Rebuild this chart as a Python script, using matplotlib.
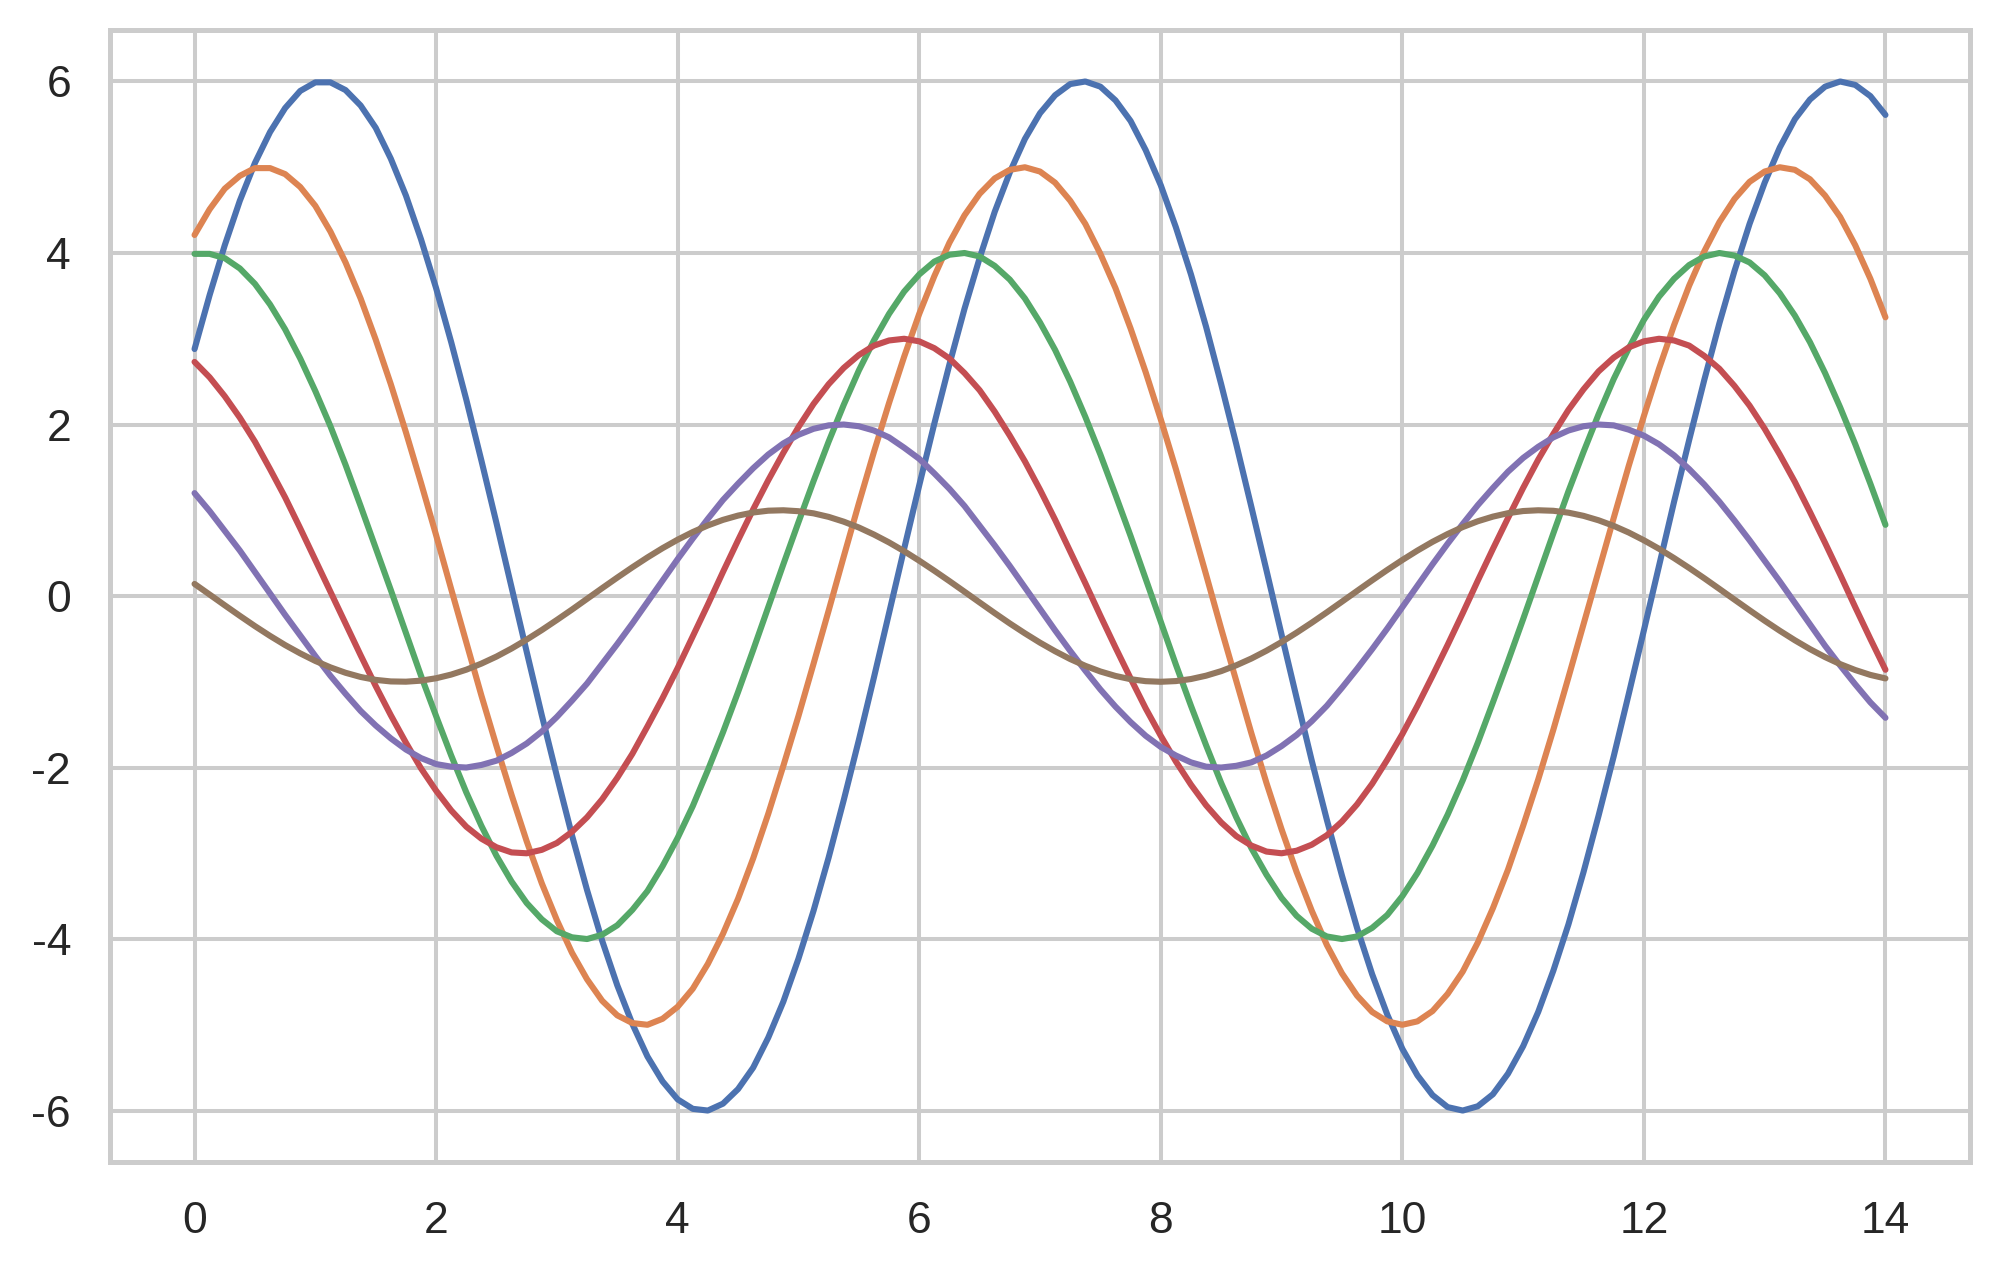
import matplotlib
matplotlib.use("Agg")
import matplotlib.pyplot as plt
import seaborn as sns

x = [0.0, 0.125, 0.25, 0.375, 0.5, 0.625, 0.75, 0.875, 1.0, 1.125,
     1.25, 1.375, 1.5, 1.625, 1.75, 1.875, 2.0, 2.125, 2.25, 2.375,
     2.5, 2.625, 2.75, 2.875, 3.0, 3.125, 3.25, 3.375, 3.5, 3.625,
     3.75, 3.875, 4.0, 4.125, 4.25, 4.375, 4.5, 4.625, 4.75, 4.875,
     5.0, 5.125, 5.25, 5.375, 5.5, 5.625, 5.75, 5.875, 6.0, 6.125,
     6.25, 6.375, 6.5, 6.625, 6.75, 6.875, 7.0, 7.125, 7.25, 7.375,
     7.5, 7.625, 7.75, 7.875, 8.0, 8.125, 8.25, 8.375, 8.5, 8.625,
     8.75, 8.875, 9.0, 9.125, 9.25, 9.375, 9.5, 9.625, 9.75, 9.875,
     10.0, 10.125, 10.25, 10.375, 10.5, 10.625, 10.75, 10.875, 11.0, 11.125,
     11.25, 11.375, 11.5, 11.625, 11.75, 11.875, 12.0, 12.125, 12.25, 12.375,
     12.5, 12.625, 12.75, 12.875, 13.0, 13.125, 13.25, 13.375, 13.5, 13.625,
     13.75, 13.875, 14.0]

series1 = [2.88, 3.51, 4.09, 4.61, 5.05, 5.41, 5.69, 5.89, 5.99, 5.99,
           5.90, 5.72, 5.46, 5.10, 4.67, 4.16, 3.59, 2.96, 2.29, 1.58,
           0.85, 0.10, -0.65, -1.39, -2.10, -2.79, -3.43, -4.02, -4.54, -4.99,
           -5.37, -5.66, -5.87, -5.98, -6.00, -5.92, -5.75, -5.50, -5.15, -4.73,
           -4.23, -3.67, -3.05, -2.38, -1.68, -0.95, -0.20, 0.55, 1.29, 2.01,
           2.70, 3.35, 3.94, 4.48, 4.94, 5.33, 5.63, 5.84, 5.97, 6.00,
           5.94, 5.78, 5.54, 5.20, 4.79, 4.30, 3.75, 3.14, 2.47, 1.77,
           1.04, 0.30, -0.45, -1.19, -1.92, -2.61, -3.26, -3.87, -4.41, -4.88,
           -5.28, -5.59, -5.82, -5.96, -6.00, -5.95, -5.81, -5.57, -5.25, -4.85,
           -4.37, -3.83, -3.22, -2.56, -1.87, -1.14, -0.40, 0.35, 1.10, 1.82,
           2.52, 3.18, 3.79, 4.34, 4.82, 5.23, 5.56, 5.79, 5.94, 6.00,
           5.96, 5.83, 5.61]
series2 = [4.21, 4.51, 4.75, 4.90, 4.99, 4.99, 4.92, 4.77, 4.55, 4.25,
           3.89, 3.47, 2.99, 2.47, 1.91, 1.32, 0.71, 0.08, -0.54, -1.16,
           -1.75, -2.32, -2.86, -3.35, -3.78, -4.16, -4.47, -4.72, -4.89, -4.98,
           -5.00, -4.93, -4.79, -4.58, -4.29, -3.94, -3.53, -3.06, -2.54, -1.98,
           -1.40, -0.79, -0.17, 0.46, 1.08, 1.68, 2.25, 2.79, 3.29, 3.73,
           4.12, 4.44, 4.69, 4.87, 4.97, 5.00, 4.95, 4.82, 4.61, 4.34,
           3.99, 3.59, 3.12, 2.61, 2.06, 1.48, 0.87, 0.25, -0.38, -0.99,
           -1.60, -2.18, -2.72, -3.22, -3.67, -4.07, -4.40, -4.66, -4.85, -4.96,
           -5.00, -4.96, -4.84, -4.64, -4.38, -4.04, -3.64, -3.19, -2.68, -2.14,
           -1.56, -0.95, -0.33, 0.29, 0.91, 1.52, 2.10, 2.65, 3.16, 3.62,
           4.02, 4.36, 4.63, 4.83, 4.95, 5.00, 4.97, 4.86, 4.67, 4.42,
           4.09, 3.70, 3.25]
series3 = [3.99, 3.99, 3.94, 3.82, 3.64, 3.40, 3.11, 2.77, 2.39, 1.98,
           1.53, 1.05, 0.56, 0.07, -0.43, -0.93, -1.40, -1.86, -2.29, -2.68,
           -3.03, -3.33, -3.58, -3.77, -3.91, -3.98, -4.00, -3.95, -3.84, -3.66,
           -3.44, -3.15, -2.82, -2.45, -2.03, -1.59, -1.12, -0.63, -0.13, 0.37,
           0.86, 1.34, 1.80, 2.23, 2.63, 2.98, 3.29, 3.55, 3.75, 3.90,
           3.98, 4.00, 3.96, 3.85, 3.69, 3.47, 3.19, 2.87, 2.50, 2.09,
           1.65, 1.18, 0.70, 0.20, -0.30, -0.80, -1.28, -1.74, -2.18, -2.58,
           -2.94, -3.25, -3.52, -3.73, -3.88, -3.97, -4.00, -3.97, -3.87, -3.72,
           -3.50, -3.23, -2.91, -2.55, -2.15, -1.71, -1.24, -0.76, -0.27, 0.23,
           0.73, 1.22, 1.68, 2.12, 2.53, 2.89, 3.22, 3.49, 3.70, 3.86,
           3.96, 4.00, 3.97, 3.89, 3.74, 3.53, 3.27, 2.96, 2.60, 2.20,
           1.77, 1.31, 0.83]
series4 = [2.73, 2.55, 2.33, 2.08, 1.80, 1.48, 1.15, 0.79, 0.42, 0.05,
           -0.32, -0.69, -1.05, -1.39, -1.71, -2.01, -2.27, -2.50, -2.69, -2.83,
           -2.93, -2.99, -3.00, -2.96, -2.88, -2.75, -2.58, -2.37, -2.12, -1.84,
           -1.52, -1.19, -0.84, -0.47, -0.10, 0.28, 0.65, 1.01, 1.35, 1.67,
           1.97, 2.24, 2.47, 2.66, 2.81, 2.92, 2.98, 3.00, 2.97, 2.89,
           2.77, 2.60, 2.40, 2.15, 1.87, 1.57, 1.24, 0.89, 0.52, 0.15,
           -0.23, -0.60, -0.96, -1.31, -1.63, -1.93, -2.20, -2.44, -2.64, -2.80,
           -2.91, -2.98, -3.00, -2.97, -2.90, -2.79, -2.63, -2.43, -2.19, -1.91,
           -1.61, -1.28, -0.93, -0.57, -0.20, 0.18, 0.55, 0.91, 1.26, 1.59,
           1.89, 2.17, 2.41, 2.62, 2.78, 2.90, 2.97, 3.00, 2.98, 2.92,
           2.80, 2.65, 2.45, 2.22, 1.95, 1.65, 1.33, 0.98, 0.62, 0.25,
           -0.13, -0.50, -0.86]
series5 = [1.20, 0.99, 0.76, 0.53, 0.28, 0.03, -0.22, -0.46, -0.70, -0.93,
           -1.14, -1.34, -1.51, -1.66, -1.79, -1.89, -1.96, -1.99, -2.00, -1.97,
           -1.92, -1.83, -1.72, -1.58, -1.41, -1.22, -1.02, -0.79, -0.56, -0.32,
           -0.07, 0.18, 0.43, 0.67, 0.90, 1.12, 1.31, 1.49, 1.65, 1.78,
           1.88, 1.95, 1.99, 2.00, 1.98, 1.93, 1.85, 1.73, 1.60, 1.43,
           1.25, 1.05, 0.82, 0.59, 0.35, 0.10, -0.15, -0.40, -0.64, -0.87,
           -1.09, -1.29, -1.47, -1.63, -1.76, -1.86, -1.94, -1.99, -2.00, -1.98,
           -1.94, -1.86, -1.75, -1.62, -1.46, -1.28, -1.07, -0.85, -0.62, -0.38,
           -0.13, 0.12, 0.37, 0.61, 0.84, 1.06, 1.26, 1.45, 1.61, 1.74,
           1.85, 1.93, 1.98, 2.00, 1.99, 1.94, 1.87, 1.77, 1.64, 1.48,
           1.30, 1.10, 0.88, 0.65, 0.41, 0.17, -0.08, -0.33, -0.58, -0.81,
           -1.03, -1.24, -1.42]
series6 = [0.141, 0.017, -0.108, -0.231, -0.351, -0.465, -0.572, -0.669, -0.757, -0.832,
           -0.895, -0.944, -0.978, -0.996, -0.999, -0.987, -0.959, -0.916, -0.859, -0.788,
           -0.706, -0.612, -0.508, -0.397, -0.279, -0.158, -0.033, 0.092, 0.215, 0.335,
           0.450, 0.558, 0.657, 0.746, 0.823, 0.888, 0.938, 0.974, 0.995, 1.000,
           0.989, 0.964, 0.923, 0.867, 0.799, 0.717, 0.625, 0.523, 0.412, 0.295,
           0.174, 0.050, -0.075, -0.199, -0.320, -0.435, -0.544, -0.644, -0.735, -0.814,
           -0.880, -0.932, -0.970, -0.993, -1.000, -0.992, -0.968, -0.929, -0.876, -0.808,
           -0.729, -0.638, -0.537, -0.427, -0.311, -0.190, -0.066, 0.059, 0.183, 0.304,
           0.420, 0.530, 0.632, 0.723, 0.804, 0.872, 0.926, 0.966, 0.991, 1.000,
           0.994, 0.972, 0.935, 0.883, 0.818, 0.740, 0.650, 0.551, 0.442, 0.327,
           0.207, 0.083, -0.042, -0.166, -0.288, -0.405, -0.516, -0.619, -0.712, -0.794,
           -0.863, -0.920, -0.961]

all_series = [series1, series2, series3, series4, series5, series6]
colors = ["#4C72B0", "#DD8452", "#55A868", "#C44E52", "#8172B3", "#937860"]
xticks = [0, 2, 4, 6, 8, 10, 12, 14]
yticks = [-6, -4, -2, 0, 2, 4, 6]

sns.set_theme(style="whitegrid")
plt.rcParams["font.family"] = ["Liberation Sans", "DejaVu Sans"]
plt.rcParams["axes.unicode_minus"] = False

fig = plt.figure(figsize=(10, 6.365), dpi=200)
ax = fig.add_axes([0.055, 0.0872, 0.930, 0.8892])

for s, c in zip(all_series, colors):
    ax.plot(x, s, color=c, lw=2.2)

ax.set_xticks(xticks)
ax.set_yticks(yticks)
ax.tick_params(axis="both", labelsize=16, length=0, pad=14, colors="#262626")
for sp in ax.spines.values():
    sp.set_color("#cccccc")
    sp.set_linewidth(1.8)
ax.grid(True, color="#cccccc", lw=1.45)

fig.savefig("out.png", dpi=200)
